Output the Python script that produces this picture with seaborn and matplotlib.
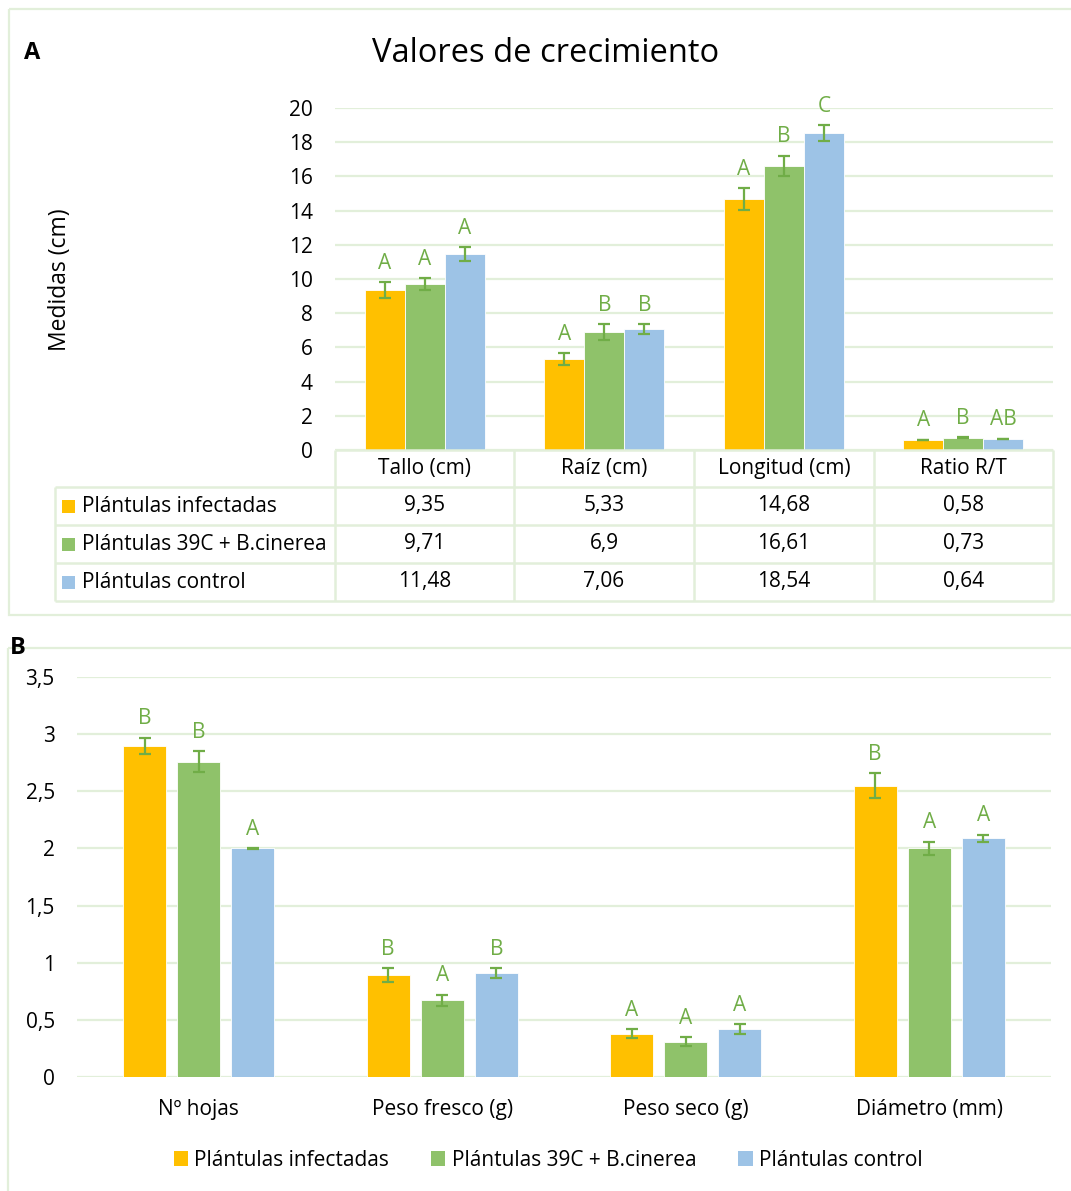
import numpy as np
import pandas as pd
import matplotlib
matplotlib.use("Agg")
import matplotlib.pyplot as plt
import seaborn as sns
from matplotlib.patches import Rectangle, Patch
from matplotlib.ticker import FuncFormatter, MultipleLocator

# ---- data -------------------------------------------------------------
groups = ["Plántulas infectadas", "Plántulas 39C + B.cinerea", "Plántulas control"]

cats_a = ["Tallo (cm)", "Raíz (cm)", "Longitud (cm)", "Ratio R/T"]
infect_a = [9.35, 5.33, 14.68, 0.58]
c39_a = [9.71, 6.9, 16.61, 0.73]
ctrl_a = [11.48, 7.06, 18.54, 0.64]
err_infect_a = [0.45, 0.35, 0.65, 0.02]
err_c39_a = [0.35, 0.45, 0.60, 0.03]
err_ctrl_a = [0.40, 0.30, 0.46, 0.02]
let_infect_a = ["A", "A", "A", "A"]
let_c39_a = ["A", "B", "B", "B"]
let_ctrl_a = ["A", "B", "C", "AB"]

cats_b = ["Nº hojas", "Peso fresco (g)", "Peso seco (g)", "Diámetro (mm)"]
infect_b = [2.90, 0.89, 0.38, 2.55]
c39_b = [2.76, 0.67, 0.31, 2.00]
ctrl_b = [2.00, 0.91, 0.42, 2.09]
err_infect_b = [0.07, 0.06, 0.04, 0.11]
err_c39_b = [0.09, 0.05, 0.04, 0.06]
err_ctrl_b = [0.005, 0.04, 0.04, 0.03]
let_infect_b = ["B", "B", "A", "B"]
let_c39_b = ["B", "A", "A", "A"]
let_ctrl_b = ["A", "B", "A", "A"]

# ---- style ------------------------------------------------------------
colors = ["#FFC000", "#8FC26A", "#9DC3E6"]
accent = "#70AD47"
gridc = "#E2EFDA"
framec = "#E2EFDA"
FS = 15

sns.set_theme(style="white")
plt.rcParams["font.family"] = ["Open Sans", "DejaVu Sans"]
plt.rcParams["text.color"] = "black"
plt.rcParams["xtick.color"] = "black"
plt.rcParams["ytick.color"] = "black"

W, H = 1071, 1191
fig = plt.figure(figsize=(W / 100, H / 100), dpi=100)


def box(x0, y0, x1, y1):
    return [x0 / W, 1 - y1 / H, (x1 - x0) / W, (y1 - y0) / H]


comma = FuncFormatter(lambda v, p: f"{v:g}".replace(".", ","))


def bars(ax, cats, series, errs, letters, width, gap):
    df = pd.DataFrame({
        "cat": cats * len(groups),
        "group": np.repeat(groups, len(cats)),
        "value": [v for s in series for v in s],
    })
    sns.barplot(data=df, x="cat", y="value", hue="group", order=cats,
                hue_order=groups, palette=colors, saturation=1,
                width=width, gap=gap, errorbar=None, legend=False, ax=ax,
                edgecolor="white", linewidth=0.6)
    for cont, e_list, l_list in zip(ax.containers, errs, letters):
        for bar, e, l in zip(cont, e_list, l_list):
            x = bar.get_x() + bar.get_width() / 2
            h = bar.get_height()
            ax.errorbar(x, h, yerr=e, color=accent, capsize=4.5,
                        elinewidth=1.6, capthick=1.6, zorder=4)
            ax.annotate(l, (x, h + e), xytext=(0, 6),
                        textcoords="offset points", ha="center",
                        va="bottom", color=accent, fontsize=FS)
    ax.set_xlim(-0.5, len(cats) - 0.5)
    ax.yaxis.grid(True, color=gridc, lw=1.6)
    ax.set_axisbelow(True)
    for s in ax.spines.values():
        s.set_visible(False)
    ax.yaxis.set_major_formatter(comma)
    ax.tick_params(axis="y", length=0, pad=16, labelsize=FS)
    ax.set_xlabel("")
    ax.set_ylabel("")


# ---- panel A ----------------------------------------------------------
axA = fig.add_axes(box(335, 108, 1053, 450))
bars(axA, cats_a, [infect_a, c39_a, ctrl_a],
     [err_infect_a, err_c39_a, err_ctrl_a],
     [let_infect_a, let_c39_a, let_ctrl_a], width=0.67, gap=0)
axA.set_ylim(0, 20)
axA.yaxis.set_major_locator(MultipleLocator(2))
axA.tick_params(axis="x", length=0, labelbottom=False)

fig.text(546 / W, 1 - 53 / H, "Valores de crecimiento", ha="center",
         va="center", fontsize=23.5)
fig.text(32 / W, 1 - 53 / H, "A", ha="center", va="center", fontsize=17,
         fontweight="bold")
fig.text(60 / W, 1 - 280 / H, "Medidas (cm)", ha="center", va="center",
         rotation=90, fontsize=16.5)

# ---- panel B ----------------------------------------------------------
axB = fig.add_axes(box(77, 677, 1051, 1077))
bars(axB, cats_b, [infect_b, c39_b, ctrl_b],
     [err_infect_b, err_c39_b, err_ctrl_b],
     [let_infect_b, let_c39_b, let_ctrl_b], width=0.666, gap=0.2)
axB.set_ylim(0, 3.5)
axB.yaxis.set_major_locator(MultipleLocator(0.5))
axB.tick_params(axis="x", length=0, pad=16, labelsize=FS)

fig.text(18 / W, 1 - 648 / H, "B", ha="center", va="center", fontsize=17,
         fontweight="bold")

handles = [Patch(facecolor=c, edgecolor="none") for c in colors]
fig.legend(handles, groups, loc="center", bbox_to_anchor=(548 / W, 1 - 1160 / H),
           ncol=3, frameon=False, fontsize=FS, handlelength=0.7,
           handleheight=0.7, handletextpad=0.3, columnspacing=2.0)

# ---- frames and data table (pixel coordinates) ------------------------
ov = fig.add_axes([0, 0, 1, 1])
ov.set_xlim(0, W)
ov.set_ylim(H, 0)
ov.axis("off")
ov.patch.set_alpha(0)

ov.add_patch(Rectangle((9, 9), 1080, 606, fill=False, edgecolor=framec, lw=1.6))
ov.add_patch(Rectangle((8, 648), 1090, 600, fill=False, edgecolor=framec, lw=1.6))

col_x = [335, 514, 694, 874, 1053]
row_y = [450, 487, 525, 563, 601]
line_kw = dict(color=framec, lw=1.8, solid_capstyle="butt")
for x in col_x:
    ov.plot([x, x], [row_y[0], row_y[-1]], **line_kw)
ov.plot([55, 55], [row_y[1], row_y[-1]], **line_kw)
ov.plot([col_x[0], col_x[-1]], [row_y[0], row_y[0]], **line_kw)
for y in row_y[1:]:
    ov.plot([55, col_x[-1]], [y, y], **line_kw)

for i, c in enumerate(cats_a):
    ov.text((col_x[i] + col_x[i + 1]) / 2, (row_y[0] + row_y[1]) / 2, c,
            ha="center", va="center", fontsize=FS)

for r, (g, vals) in enumerate(zip(groups, [infect_a, c39_a, ctrl_a])):
    yc = (row_y[r + 1] + row_y[r + 2]) / 2
    ov.add_patch(Rectangle((62, yc - 6.5), 13, 13, facecolor=colors[r],
                           edgecolor="none"))
    ov.text(82, yc, g, ha="left", va="center", fontsize=FS)
    for i, v in enumerate(vals):
        ov.text((col_x[i] + col_x[i + 1]) / 2, yc,
                f"{v:g}".replace(".", ","), ha="center", va="center",
                fontsize=FS)

fig.savefig("out.png", dpi=100)
